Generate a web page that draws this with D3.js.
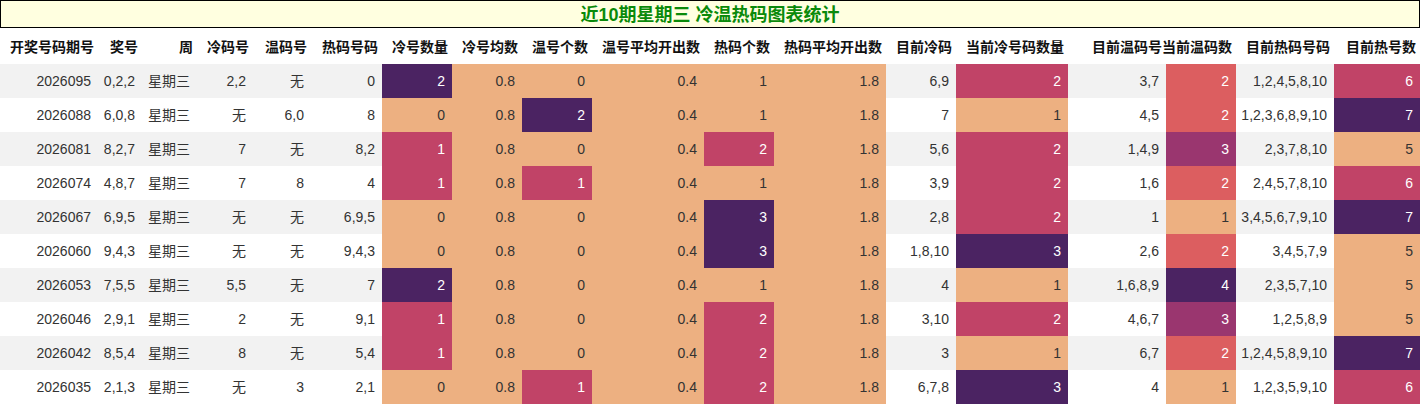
<!DOCTYPE html><html><head><meta charset="utf-8">
<script src="https://cdn.jsdelivr.net/npm/d3@7"></script>
<style>body{margin:0;background:#fff}text{font-family:"Liberation Sans","Noto Sans CJK SC",sans-serif}</style></head><body>
<svg id="c" width="1420" height="405"></svg>
<script>
const title="近10期星期三 冷温热码图表统计";
const columns=["开奖号码期号","奖号","周","冷码号","温码号","热码号码","冷号数量","冷号均数","温号个数","温号平均开出数","热码个数","热码平均开出数","目前冷码","当前冷号码数量","目前温码号","当前温码数","目前热码号码","目前热号数"];
const colWidths=[98,44,55,56,58,71,70,70,70,112,70,112,70,112,98,70,98,86];
const issues=["2026095","2026088","2026081","2026074","2026067","2026060","2026053","2026046","2026042","2026035"];
const draws=["0,2,2","6,0,8","8,2,7","4,8,7","6,9,5","9,4,3","7,5,5","2,9,1","8,5,4","2,1,3"];
const weekday=Array(10).fill("星期三");
const coldNums=["2,2","无","7","7","无","无","5,5","2","8","无"];
const warmNums=["无","6,0","无","8","无","无","无","无","无","3"];
const hotNums=["0","8","8,2","4","6,9,5","9,4,3","7","9,1","5,4","2,1"];
const coldCount=[2,0,1,1,0,0,2,1,1,0];
const coldAvg=Array(10).fill(0.8);
const warmCount=[0,2,0,1,0,0,0,0,0,1];
const warmAvg=Array(10).fill(0.4);
const hotCount=[1,1,2,1,3,3,1,2,2,2];
const hotAvg=Array(10).fill(1.8);
const curCold=["6,9","7","5,6","3,9","2,8","1,8,10","4","3,10","3","6,7,8"];
const curColdCount=[2,1,2,2,2,3,1,2,1,3];
const curWarm=["3,7","4,5","1,4,9","1,6","1","2,6","1,6,8,9","4,6,7","6,7","4"];
const curWarmCount=[2,2,3,2,1,2,4,3,2,1];
const curHot=["1,2,4,5,8,10","1,2,3,6,8,9,10","2,3,7,8,10","2,4,5,7,8,10","3,4,5,6,7,9,10","3,4,5,7,9","2,3,5,7,10","1,2,5,8,9","1,2,4,5,8,9,10","1,2,3,5,9,10"];
const curHotCount=[6,7,5,6,7,5,5,5,7,6];

const cols=[issues,draws,weekday,coldNums,warmNums,hotNums,coldCount,coldAvg,warmCount,warmAvg,hotCount,hotAvg,curCold,curColdCount,curWarm,curWarmCount,curHot,curHotCount];
const heat=new Set([6,7,8,9,10,11,13,15,17]);
const flare=d3.interpolateRgbBasis(["#edb081","#e98d6b","#e3685f","#d14a61","#b13c6c","#8f3371","#6c2b6d","#4b2362"]);
const svg=d3.select("#c");
const W=1420;
const xs=d3.cumsum([0,...colWidths]);
const x=d3.scaleOrdinal().domain(d3.range(columns.length)).range(xs);
const y=d3.scaleBand().domain(d3.range(10)).range([64,404]);

svg.append("rect").attr("x",0.5).attr("y",0.5).attr("width",W-1).attr("height",27).attr("fill","#ffffe0").attr("stroke","#000");
svg.append("text").attr("x",W/2).attr("y",21).attr("text-anchor","middle").attr("font-size",18).attr("font-weight","bold").attr("fill","#0a8a0a").text(title);

svg.selectAll(".h").data(columns).join("text").attr("x",(d,i)=>x(i)+colWidths[i]-4).attr("y",52).attr("text-anchor","end").attr("font-size",14).attr("font-weight","bold").attr("fill","#111").text(d=>d);

const rows=svg.selectAll(".r").data(d3.range(10)).join("g");
rows.append("rect").attr("x",0).attr("y",i=>y(i)).attr("width",W).attr("height",y.bandwidth()).attr("fill",i=>i%2?"#fff":"#f2f2f2");
cols.forEach((arr,c)=>{
  let sc=null;
  if(heat.has(c)){const [a,b]=d3.extent(arr);sc=d3.scaleLinear().domain([a,b===a?a+1:b]).range([0,1]);}
  arr.forEach((v,r)=>{
    let tc="#333";
    if(sc){const t=sc(v);svg.append("rect").attr("x",x(c)).attr("y",y(r)).attr("width",colWidths[c]).attr("height",y.bandwidth()).attr("fill",flare(t));if(t>0.2)tc="#fff";}
    svg.append("text").attr("x",x(c)+colWidths[c]-7).attr("y",y(r)+y.bandwidth()/2+5).attr("text-anchor","end").attr("font-size",14).attr("fill",tc).text(v);
  });
});
</script></body></html>
